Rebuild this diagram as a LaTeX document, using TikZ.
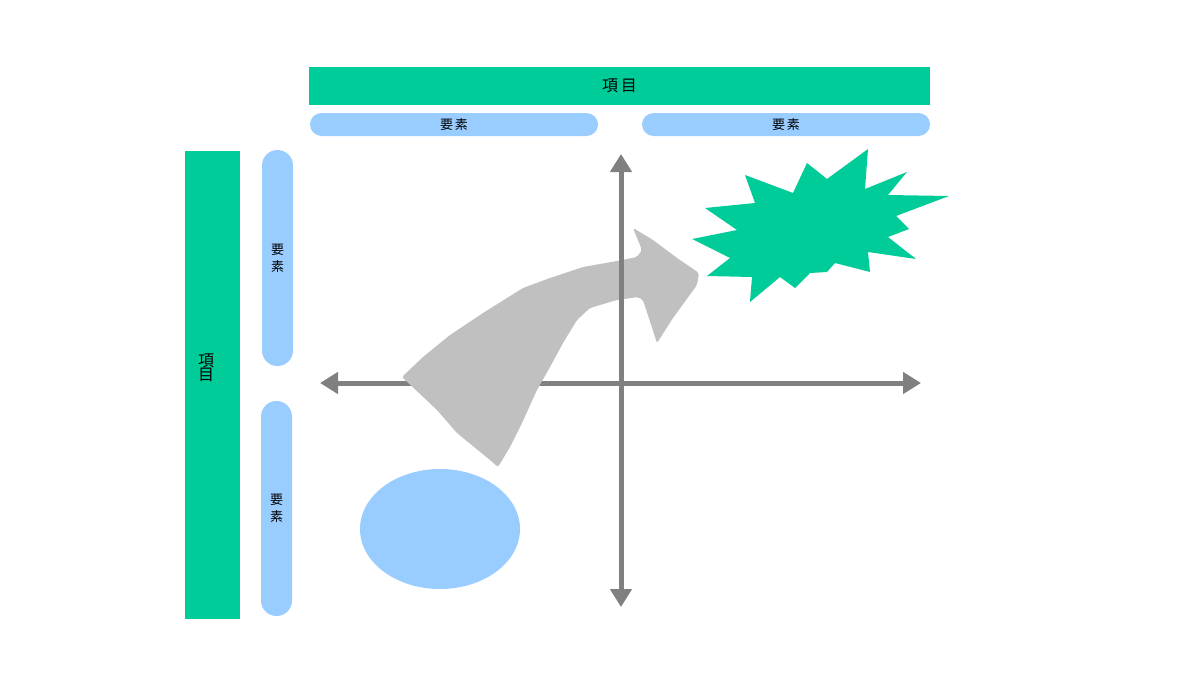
\documentclass[tikz,border=0pt]{standalone}
\usepackage{fontspec}
\newfontfamily\jpfont{Noto Sans CJK JP}
\usetikzlibrary{arrows.meta, positioning, shapes.geometric}
\definecolor{verde}{HTML}{00CC99}
\definecolor{celeste}{HTML}{99CCFF}
\definecolor{gris}{HTML}{808080}
\definecolor{grisclaro}{HTML}{C0C0C0}
\tikzstyle{titulo} = [fill=verde, inner sep=0pt, align=center, font=\jpfont\fontsize{16}{16}\selectfont]
\tikzstyle{elemento} = [fill=celeste, inner sep=0pt, align=center, font=\jpfont\fontsize{13}{17}\selectfont]
\tikzstyle{eje} = [draw=gris, line width=5pt, {Triangle[length=18pt,width=21pt]}-{Triangle[length=18pt,width=21pt]}]

\begin{document}
\begin{tikzpicture}[x=1pt, y=-1pt]
	\useasboundingbox (0,0) rectangle (1200,680);
	\fill[white] (0,0) rectangle (1200,680);
	% titulos
	\node[titulo, minimum width=621pt, minimum height=38pt] (tituloarriba) at (619.5,86) {項\hspace{3pt}目};
	\node[titulo, minimum width=55pt, minimum height=468pt] (tituloizq) at (212.5,385) {};
	\node[font=\jpfont\fontsize{16}{16}\selectfont, align=center, inner sep=0pt] (textoizq) at (206,368) {項\\[-2pt]目};
	% elementos
	\node[elemento, rounded corners=11.5pt, minimum width=288pt, minimum height=23pt] (elem1) at (454,124.5) {要\hspace{2pt}素};
	\node[elemento, rounded corners=11.5pt, minimum width=288pt, minimum height=23pt] (elem2) at (786,124.5) {要\hspace{2pt}素};
	\node[elemento, rounded corners=15.5pt, minimum width=31pt, minimum height=216pt] (elem3) at (277.5,258) {要\\素};
	\node[elemento, rounded corners=15.5pt, minimum width=31pt, minimum height=215pt] (elem4) at (276.5,508.5) {要\\素};
	% ejes
	\coordinate (ejeizq) at (320,383);
	\coordinate (ejeder) at (921,383);
	\coordinate (ejearriba) at (621,154);
	\coordinate (ejeabajo) at (621,607);
	\draw[eje] (ejeizq) -- (ejeder);
	% flecha gris
	\fill[grisclaro, rounded corners=2pt] (402,377) -- (423,357) -- (450,335) -- (483,313) -- (523,288)
		-- (550,278) -- (583,267) -- (617,261) -- (637,257) -- (642,250) -- (633,228)
		-- (653,240) -- (677,258) -- (699,273) -- (697,285) -- (673,318) -- (657,343)
		-- (643,300) -- (638,297) -- (617,300) -- (590,308) -- (577,320) -- (563,343)
		-- (550,367) -- (537,390) -- (522,423) -- (510,447) -- (498,467) -- (490,460)
		-- (457,433) -- (437,410) -- cycle;
	\draw[eje] (ejeabajo) -- (ejearriba);
	% estrella
	\fill[verde] (868,149) -- (865,189) -- (907,172) -- (888,195) -- (949,196) -- (896,216)
		-- (909,229) -- (888,237) -- (916,259) -- (868,252) -- (870,272) -- (835,263)
		-- (827,272) -- (810,273) -- (795,288) -- (780,277) -- (750,302) -- (752,277)
		-- (707,276) -- (730,258) -- (692,239) -- (737,230) -- (705,208) -- (755,203)
		-- (745,175) -- (793,193) -- (807,163) -- (827,179) -- cycle;
	% elipse
	\node[ellipse, fill=celeste, minimum width=160pt, minimum height=120pt] (elipse) at (440,529) {};
\end{tikzpicture}
\end{document}
